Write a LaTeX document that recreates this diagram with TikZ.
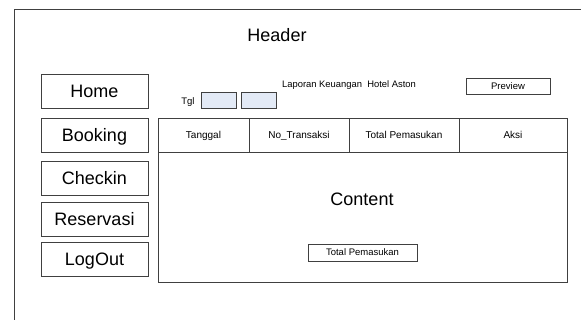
\documentclass[tikz,border=0pt]{standalone}
\usepackage{fontspec}
\setmainfont{Liberation Sans}
\definecolor{framegray}{HTML}{404040}
\definecolor{datefill}{HTML}{E3EAF6}
\tikzset{
  navbtn/.style={draw=framegray, line width=0.8pt, minimum width=107pt, minimum height=34pt,
    inner sep=0pt, text height=13pt, text depth=0pt, font=\fontsize{18}{20}\selectfont},
  colhead/.style={draw=framegray, line width=0.8pt, minimum height=34pt, inner sep=0pt,
    text height=7pt, text depth=0pt, font=\fontsize{10}{12}\selectfont},
  smallbox/.style={draw=framegray, line width=0.8pt, inner sep=0pt,
    text height=7pt, text depth=0pt, font=\fontsize{9.5}{11}\selectfont},
  datebox/.style={draw=framegray, line width=0.8pt, fill=datefill, minimum width=35pt,
    minimum height=16pt, inner sep=0pt},
  bigtext/.style={inner sep=0pt, text height=13pt, text depth=0pt, font=\fontsize{18}{20}\selectfont},
}
\begin{document}
\begin{tikzpicture}[x=1pt, y=-1pt]
      \useasboundingbox (0,0) rectangle (581,320);
      \draw[framegray, line width=0.8pt] (14,320) -- (14,9) -- (581,9);
      \draw
        (277,35.5) node[bigtext] (header){Header}
        (94.5,91) node[navbtn] (home){Home}
        (94.5,135) node[navbtn] (booking){Booking}
        (94.5,178) node[navbtn] (checkin){Checkin}
        (94.5,219) node[navbtn] (reservasi){Reservasi}
        (94.5,259) node[navbtn] (logout){LogOut};
      \draw
        (188,101.5) node[inner sep=0pt, text height=7pt, text depth=0pt, font=\fontsize{9.5}{11}\selectfont] (tgl){Tgl}
        (218.5,100.5) node[datebox] (tglawal){}
        (258.5,100.5) node[datebox] (tglakhir){}
        (349,84) node[inner sep=0pt, text height=7pt, text depth=0pt, font=\fontsize{9.4}{11}\selectfont] (judul){Laporan Keuangan\ \ Hotel Aston}
        (508,86) node[smallbox, minimum width=84pt, minimum height=16pt] (preview){Preview};
      \begin{scope}
        \draw (203.5,135) node[colhead, minimum width=91pt] (tanggal){Tanggal};
        \draw (299,135) node[colhead, minimum width=100pt] (notrans){No\_Transaksi};
        \draw (404,135) node[colhead, minimum width=110pt] (total){Total Pemasukan};
        \draw (513,135) node[colhead, minimum width=108pt] (aksi){Aksi};
        \draw (362.5,217) node[draw=framegray, line width=0.8pt, minimum width=409pt, minimum height=130pt] (content){};
        \draw (362,199.5) node[bigtext] (contentlabel){Content};
        \draw (362.5,252.5) node[smallbox, minimum width=109pt, minimum height=17pt] (totalbox){Total Pemasukan};
      \end{scope}
    \end{tikzpicture}
\end{document}
